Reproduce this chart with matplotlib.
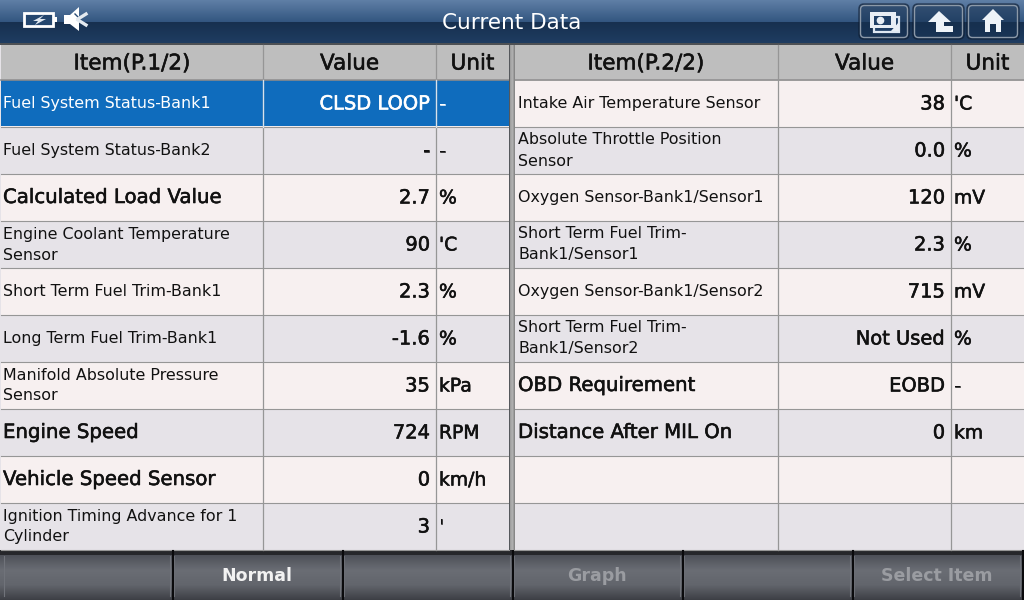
"""Current Data screen of a scan tool, redrawn in pixel coordinates."""

import matplotlib
matplotlib.use('Agg')

import matplotlib.pyplot as plt
import matplotlib.patheffects as pe
import numpy as np
from matplotlib.colors import LinearSegmentedColormap
from matplotlib.patches import FancyBboxPatch, Polygon, Rectangle

plt.rcParams['font.family'] = ['DejaVu Sans']

TITLE = "Current Data"
left_header = ["Item(P.1/2)", "Value", "Unit"]
right_header = ["Item(P.2/2)", "Value", "Unit"]

left_items = [
    "Fuel System Status-Bank1", "Fuel System Status-Bank2", "Calculated Load Value",
    "Engine Coolant Temperature\nSensor", "Short Term Fuel Trim-Bank1",
    "Long Term Fuel Trim-Bank1", "Manifold Absolute Pressure\nSensor", "Engine Speed",
    "Vehicle Speed Sensor", "Ignition Timing Advance for 1\nCylinder",
]
left_values = ["CLSD LOOP", "-", "2.7", "90", "2.3", "-1.6", "35", "724", "0", "3"]
left_units = ["-", "-", "%", "'C", "%", "%", "kPa", "RPM", "km/h", "'"]

right_items = [
    "Intake Air Temperature Sensor", "Absolute Throttle Position\nSensor",
    "Oxygen Sensor-Bank1/Sensor1", "Short Term Fuel Trim-\nBank1/Sensor1",
    "Oxygen Sensor-Bank1/Sensor2", "Short Term Fuel Trim-\nBank1/Sensor2",
    "OBD Requirement", "Distance After MIL On", "", "",
]
right_values = ["38", "0.0", "120", "2.3", "715", "Not Used", "EOBD", "0", "", ""]
right_units = ["'C", "%", "mV", "%", "mV", "%", "-", "km", "", ""]

large_items = ["Calculated Load Value", "Engine Speed", "Vehicle Speed Sensor",
               "OBD Requirement", "Distance After MIL On"]
footer_labels = ["", "Normal", "", "Graph", "", "Select Item"]
footer_enabled = [False, True, False, False, False, False]

ROW_EDGES = [80, 127, 174, 221, 268, 315, 362, 409, 456, 503, 550]
ROW_A = "#f7f0f0"
ROW_B = "#e6e3e8"
GRID = "#969696"
HEADER = "#bebebe"
SELECTED = "#0f6cbd"


def heavy(text_obj, color, width=0.4):
    # the device font is hinted and looks heavier than plain DejaVu
    text_obj.set_path_effects([pe.withStroke(linewidth=width, foreground=color)])


def gradient(ax, x0, x1, y0, y1, stops, horizontal=False, zorder=1):
    cmap = LinearSegmentedColormap.from_list("g", stops)
    data = np.linspace(0, 1, 128).reshape(-1, 1)
    if horizontal:
        data = data.T
    ax.imshow(data, extent=(x0, x1, y1, y0), cmap=cmap, aspect='auto', zorder=zorder)


def draw_table(ax, x0, col1, col2, x1, text_x, header, items, values, units, selected=None):
    ax.add_patch(Rectangle((x0, 45), x1 - x0, 34, fc=HEADER, ec='none', zorder=2))
    for text, a, b in zip(header, (x0, col1, col2), (col1, col2, x1)):
        t = ax.text((a + b) / 2, 63.5, text, ha='center', va='center', fontsize=15.5,
                    color="#111111", zorder=5)
        heavy(t, "#111111")

    for i, (item, value, unit) in enumerate(zip(items, values, units)):
        top, bottom = ROW_EDGES[i], ROW_EDGES[i + 1]
        mid = (top + bottom) / 2
        ax.add_patch(Rectangle((x0, top), x1 - x0, bottom - top,
                               fc=ROW_A if i % 2 == 0 else ROW_B, ec='none', zorder=2))
        color = "#111111"
        if i == selected:
            ax.add_patch(Rectangle((x0, top), x1 - x0, bottom - top - 1, fc=SELECTED, ec='none', zorder=2))
            color = "white"
        big = item in large_items
        t = ax.text(text_x, mid, item, ha='left', va='center', color=color, zorder=5,
                    fontsize=14.2 if big else 11.4, linespacing=1.5)
        if big:
            heavy(t, color)
        t = ax.text(col2 - 6, mid + 0.5, value, ha='right', va='center', color=color, zorder=5, fontsize=14)
        heavy(t, color)
        t = ax.text(col2 + 3, mid + 0.5, unit, ha='left', va='center', color=color, zorder=5, fontsize=13.5)
        heavy(t, color)
        ax.plot([x0, x1], [bottom - 0.5, bottom - 0.5], color=GRID, lw=0.8, zorder=4)

    ax.plot([x0, x1], [79.5, 79.5], color="#8a8a8a", lw=1.2, zorder=4)
    for col in (col1, col2):
        ax.plot([col, col], [45, 550], color=GRID, lw=0.9, zorder=4)
        if selected is not None:
            sel_top, sel_bottom = ROW_EDGES[selected], ROW_EDGES[selected + 1]
            ax.plot([col, col], [sel_top, sel_bottom], color="#d8e2ec", lw=0.9, zorder=4)


def draw_button(ax, x0, x1):
    ax.add_patch(FancyBboxPatch((x0, 4), x1 - x0, 35, boxstyle="round,pad=0,rounding_size=5",
                                fc="#16304f", ec="#0e1c30", lw=1.2, alpha=0.55, zorder=3))
    ax.add_patch(FancyBboxPatch((x0 + 1.5, 5.5), x1 - x0 - 3, 32, boxstyle="round,pad=0,rounding_size=4",
                                fc="none", ec="#8c99a8", lw=1.0, zorder=3))


def draw_icons(ax):
    # battery
    ax.add_patch(Rectangle((24, 13), 29, 13, fc="#24466e", ec="white", lw=2, zorder=5))
    ax.add_patch(Rectangle((53, 17), 3.5, 5, fc="white", ec='none', zorder=5))
    ax.add_patch(Polygon([[44, 15], [33, 21], [38, 21], [35, 25], [46, 19], [40, 19]], fc="#dfe6ee", ec='none', zorder=6))
    # speaker, muted
    ax.add_patch(Polygon([[64, 15], [70, 15], [79, 7], [79, 31], [70, 24], [64, 24]], fc="white", ec='none', zorder=5))
    ax.plot([75, 86], [14, 25], color="#2a4c75", lw=1, zorder=6)
    ax.plot([78, 86], [19, 14], color="#e4eaf0", lw=2.4, zorder=6)
    ax.plot([78, 86], [20, 25], color="#e4eaf0", lw=2.4, zorder=6)
    # camera
    ax.add_patch(Rectangle((874, 17), 25, 15, fc="#1f3f66", ec="#dfe8f2", lw=1.6, zorder=5))
    ax.add_patch(Rectangle((870, 12), 26, 16, fc="#e8eef5", ec='none', zorder=6))
    ax.add_patch(Rectangle((874, 15.5), 17, 9, fc="#1f3f66", ec='none', zorder=7))
    ax.plot([880], [20], 'o', color="#e8eef5", ms=4.5, zorder=8)
    ax.add_patch(Polygon([[899, 22], [899, 31], [891, 31]], fc="#e8eef5", ec='none', zorder=8))
    # back arrow
    ax.add_patch(Polygon([[928, 22], [939, 11], [951, 22], [944, 22], [944, 26], [953, 26],
                          [953, 32], [936, 32], [936, 22]], fc="#eef3f8", ec='none', zorder=5))
    # home
    ax.add_patch(Polygon([[982, 20], [993, 9], [1004, 20], [1001, 20], [1001, 32], [996, 32], [996, 24],
                          [990, 24], [990, 32], [985, 32], [985, 20]], fc="#eef3f8", ec='none', zorder=5))


fig = plt.figure(figsize=(10.24, 6), dpi=100, facecolor="#e6e3e8")
ax = fig.add_axes([0, 0, 1, 1])

# title bar
gradient(ax, 0, 1024, 0, 22, ["#5f7fa6", "#335680"])
gradient(ax, 0, 1024, 22, 44, ["#17304f", "#1f3d62"])
ax.add_patch(Rectangle((0, 43), 1024, 2, fc="#4d5054", ec='none', zorder=2))
ax.text(512, 23, TITLE, ha='center', va='center', fontsize=15.5, color="white", zorder=5)
draw_button(ax, 859, 909)
draw_button(ax, 913, 964)
draw_button(ax, 967, 1019)
draw_icons(ax)

draw_table(ax, 1, 263, 436, 509, 3, left_header, left_items, left_values, left_units, selected=0)
draw_table(ax, 514, 778, 951, 1024, 518, right_header, right_items, right_values, right_units)

# splitter between the two pages
ax.add_patch(Rectangle((508.5, 45), 1.5, 505, fc="#55585c", ec='none', zorder=5))
gradient(ax, 510, 515, 45, 550, ["#9a9a9a", "#b4b4b4", "#7c7c7c"], horizontal=True, zorder=5)

# footer
ax.add_patch(Rectangle((0, 550), 1024, 5, fc="#26272b", ec='none', zorder=2))
gradient(ax, 0, 1024, 555, 600, ["#4d5058", "#6a6d74", "#62656c", "#3d3f45"])
for i, (label, enabled) in enumerate(zip(footer_labels, footer_enabled)):
    xa = 2 + i * 170
    xb = xa + 170
    ax.plot([xa + 2, xa + 2], [556, 596], color="#70737a", lw=0.8, zorder=3)
    ax.plot([xb - 2, xb - 2], [556, 596], color="#70737a", lw=0.8, zorder=3)
    ax.plot([xb + 0.5, xb + 0.5], [551, 600], color="#0a0a0c", lw=1.5, zorder=4)
    ax.text((xa + xb) / 2, 576, label, ha='center', va='center', fontsize=12.5,
            fontweight='bold', color="#f2f2f2" if enabled else "#9a9ca1", zorder=5)

ax.set_xlim(0, 1024)
ax.set_ylim(600, 0)
ax.axis('off')
fig.savefig("out.png", dpi=100)
